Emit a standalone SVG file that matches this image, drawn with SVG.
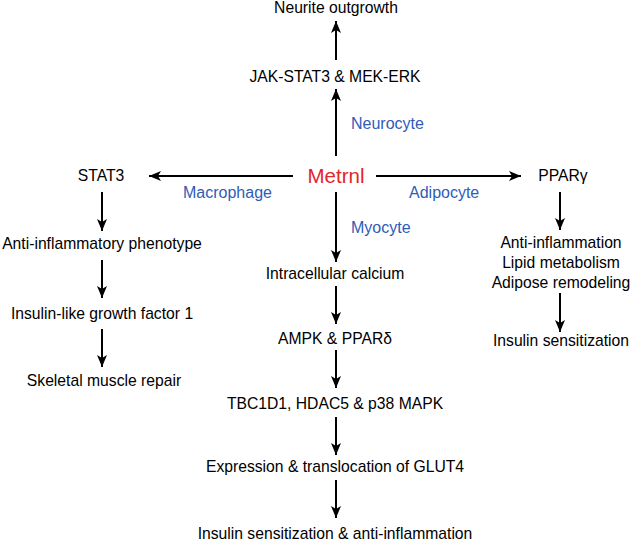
<svg xmlns="http://www.w3.org/2000/svg" width="631" height="542" viewBox="0 0 631 542">
<style>
text{font-family:"Liberation Sans",Arial,sans-serif;font-size:15.7px;fill:#000;text-anchor:middle}
.blue{fill:#2f5cb8;text-anchor:start;font-size:16px}
.red{fill:#e32626;font-size:20.5px}
.c line{stroke:#000;stroke-width:2;marker-end:url(#ah)}
</style>
<defs>
<marker id="ah" markerUnits="userSpaceOnUse" markerWidth="13" markerHeight="11" refX="12" refY="5" orient="auto">
<path d="M0,0 L12,5 L0,10 L3,5 z" fill="#000"/>
</marker>
</defs>
<rect width="631" height="542" fill="#fff"/>
<g class="c" id="connectors">
<line x1="336" y1="60" x2="336" y2="21"/>
<line x1="336" y1="156" x2="336" y2="89"/>
<line x1="293" y1="176" x2="149" y2="176"/>
<line x1="376" y1="176" x2="521" y2="176"/>
<line x1="336" y1="192" x2="336" y2="262"/>
<line x1="336" y1="286" x2="336" y2="324"/>
<line x1="336" y1="350" x2="336" y2="388"/>
<line x1="336" y1="417" x2="336" y2="455"/>
<line x1="336" y1="480" x2="336" y2="518"/>
<line x1="102" y1="192" x2="102" y2="231"/>
<line x1="102" y1="260" x2="102" y2="298"/>
<line x1="102" y1="329" x2="102" y2="367"/>
<line x1="560" y1="192" x2="560" y2="230"/>
<line x1="560" y1="293" x2="560" y2="332"/>
</g>
<g id="metrnl"><text class="red" x="336" y="183">Metrnl</text></g>
<g id="neurite"><text x="336" y="13">Neurite outgrowth</text></g>
<g id="jak"><text x="335" y="82">JAK-STAT3 &amp; MEK-ERK</text></g>
<g id="neurocyte"><text class="blue" x="351" y="129">Neurocyte</text></g>
<g id="macrophage"><text class="blue" x="183" y="198">Macrophage</text></g>
<g id="adipocyte"><text class="blue" x="409" y="198">Adipocyte</text></g>
<g id="myocyte"><text class="blue" x="351" y="233">Myocyte</text></g>
<g id="calcium"><text x="335" y="279">Intracellular calcium</text></g>
<g id="ampk"><text x="335" y="344">AMPK &amp; PPARδ</text></g>
<g id="tbc"><text x="335" y="409">TBC1D1, HDAC5 &amp; p38 MAPK</text></g>
<g id="glut4"><text x="335" y="472">Expression &amp; translocation of GLUT4</text></g>
<g id="insulin-anti"><text x="335" y="539">Insulin sensitization &amp; anti-inflammation</text></g>
<g id="stat3"><text x="101" y="181">STAT3</text></g>
<g id="antiinf"><text x="102" y="249">Anti-inflammatory phenotype</text></g>
<g id="igf"><text x="102" y="319">Insulin-like growth factor 1</text></g>
<g id="skeletal"><text x="104" y="386">Skeletal muscle repair</text></g>
<g id="ppar"><text x="563" y="181">PPARγ</text></g>
<g id="adipose-effects"><text x="561" y="248">Anti-inflammation</text><text x="561" y="268">Lipid metabolism</text><text x="561" y="288">Adipose remodeling</text></g>
<g id="insulin-sens"><text x="561" y="346">Insulin sensitization</text></g>
</svg>
